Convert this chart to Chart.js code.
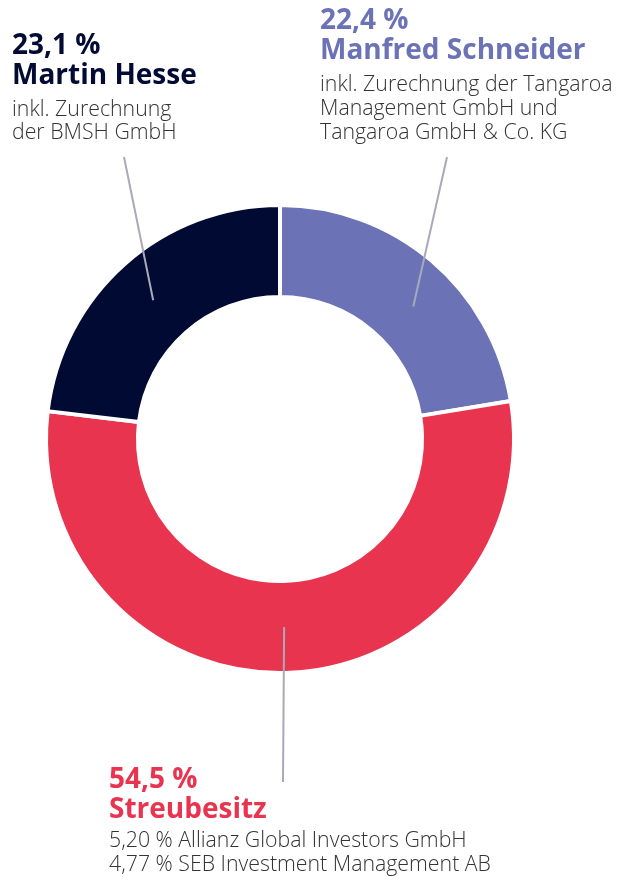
<!DOCTYPE html>
<html>
<head>
<meta charset="utf-8">
<script src="https://cdn.jsdelivr.net/npm/chart.js@4"></script>
<style>
  html, body { margin: 0; padding: 0; background: #fff; }
  body { width: 629px; height: 877px; position: relative; overflow: hidden; font-family: "Open Sans", sans-serif; }
  #wrap { position: absolute; left: 0; top: 0; width: 629px; height: 877px; }
  .lbl { position: absolute; white-space: nowrap; }
  .lbl .head { font-weight: 700; font-size: 28px; line-height: 30px; }
  .lbl .sub { font-weight: 300; font-size: 21.3px; line-height: 24px; color: #333; margin-top: 4px; }
</style>
</head>
<body>
<div id="wrap"><canvas id="shareChart"></canvas></div>

<div class="lbl" style="left:12px; top:28px;">
  <div class="head" style="color:#020b34;">23,1 %<br>Martin Hesse</div>
  <div class="sub" style="margin-top:8px; line-height:23px;">inkl. Zurechnung<br>der BMSH GmbH</div>
</div>
<div class="lbl" style="left:320px; top:3px;">
  <div class="head" style="color:#6b72b5;">22,4 %<br>Manfred Schneider</div>
  <div class="sub" style="margin-top:8px;">inkl. Zurechnung der Tangaroa<br>Management GmbH und<br>Tangaroa GmbH &amp; Co. KG</div>
</div>
<div class="lbl" style="left:109px; top:762px;">
  <div class="head" style="color:#e8344f;">54,5 %<br>Streubesitz</div>
  <div class="sub" style="margin-top:5px;">5,20 % Allianz Global Investors GmbH<br>4,77 % SEB Investment Management AB</div>
</div>

<script>
// shareholder structure
const holders = ["Manfred Schneider", "Streubesitz", "Martin Hesse"];
const shares = [22.4, 54.5, 23.1];
const colors = ["#6b72b5", "#e8344f", "#000a33"];

// leader line anchors (page px) and where along each arc they meet it
const leaderAnchors = [[447, 157], [283, 782], [124, 157]];
const leaderAt = [0.56, 0.5, 0.49];

const leaderLines = {
  id: "leaderLines",
  afterDatasetsDraw(chart) {
    const ctx = chart.ctx;
    const arcs = chart.getDatasetMeta(0).data;
    ctx.save();
    ctx.strokeStyle = "#a8aab9";
    ctx.lineWidth = 2;
    arcs.forEach((arc, i) => {
      const p = arc.getProps(["x", "y", "startAngle", "endAngle", "innerRadius", "outerRadius"], true);
      const a = p.startAngle + (p.endAngle - p.startAngle) * leaderAt[i];
      const r = (p.innerRadius + p.outerRadius) / 2;
      ctx.beginPath();
      ctx.moveTo(leaderAnchors[i][0], leaderAnchors[i][1]);
      ctx.lineTo(p.x + Math.cos(a) * r, p.y + Math.sin(a) * r);
      ctx.stroke();
    });
    ctx.restore();
  }
};

new Chart(document.getElementById("shareChart"), {
  type: "doughnut",
  data: {
    labels: holders,
    datasets: [{
      data: shares,
      backgroundColor: colors,
      borderColor: "#ffffff",
      borderWidth: 4,
      hoverOffset: 0
    }]
  },
  options: {
    responsive: true,
    maintainAspectRatio: false,
    animation: false,
    radius: 234,
    cutout: "60.7%",
    layout: { padding: { left: 0, right: 69, top: 1, bottom: 0 } },
    plugins: {
      legend: { display: false },
      tooltip: { enabled: false }
    }
  },
  plugins: [leaderLines]
});
</script>
</body>
</html>
